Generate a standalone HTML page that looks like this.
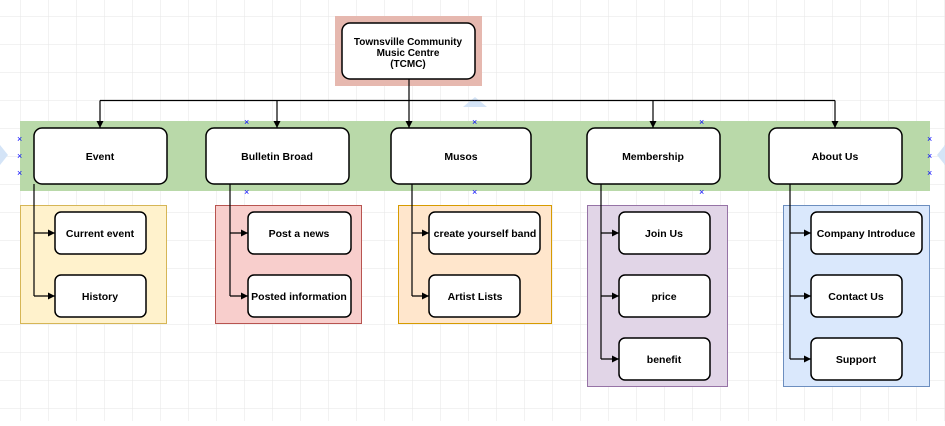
<!DOCTYPE html>
<html><head><meta charset="utf-8"><style>
html,body{margin:0;padding:0;background:#fff}
svg text{font-family:"Liberation Sans",Tahoma,sans-serif;font-weight:bold;font-size:10.5px;fill:#000}
</style></head><body>
<svg width="945" height="421" xmlns="http://www.w3.org/2000/svg">
<defs>
<pattern id="g" x="20" y="16" width="28" height="28" patternUnits="userSpaceOnUse">
<path d="M0 0H28M0 0V28" stroke="#e6e6e6" stroke-width="1" fill="none"/>
</pattern>
<marker id="a" markerWidth="8" markerHeight="8" refX="7" refY="4" orient="auto" markerUnits="userSpaceOnUse">
<path d="M0 0.5L7 4L0 7.5z" fill="#000"/>
</marker>
</defs>
<rect width="945" height="421" fill="url(#g)"/>
<!-- backgrounds -->
<rect x="335" y="16" width="147" height="70" fill="#e6b8af"/>
<rect x="20" y="121" width="910" height="70" fill="#b9d9a9"/>
<rect x="20.5" y="205.5" width="146" height="118" fill="#fff2cc" stroke="#d6b656"/>
<rect x="215.5" y="205.5" width="146" height="118" fill="#f8cecc" stroke="#b85450"/>
<rect x="398.5" y="205.5" width="153" height="118" fill="#ffe6cc" stroke="#d79b00"/>
<rect x="587.5" y="205.5" width="140" height="181" fill="#e1d5e7" stroke="#9673a6"/>
<rect x="783.5" y="205.5" width="146" height="181" fill="#dae8fc" stroke="#6c8ebf"/>
<!-- decorative -->
<path d="M463 107L475 97L487 107z" fill="#d4e4f7"/>
<path d="M0 145L8 155L0 165z" fill="#d4e4f7"/>
<path d="M945 145L937 155L945 165z" fill="#d4e4f7"/>
<g fill="#0000ff" font-size="9" style="font-weight:normal">
<text x="17" y="142" style="fill:#00f;font-weight:normal;font-size:9px">×</text>
<text x="17" y="159" style="fill:#00f;font-weight:normal;font-size:9px">×</text>
<text x="17" y="176" style="fill:#00f;font-weight:normal;font-size:9px">×</text>
<text x="244" y="125" style="fill:#00f;font-weight:normal;font-size:9px">×</text>
<text x="244" y="195" style="fill:#00f;font-weight:normal;font-size:9px">×</text>
<text x="472" y="125" style="fill:#00f;font-weight:normal;font-size:9px">×</text>
<text x="472" y="195" style="fill:#00f;font-weight:normal;font-size:9px">×</text>
<text x="699" y="125" style="fill:#00f;font-weight:normal;font-size:9px">×</text>
<text x="699" y="195" style="fill:#00f;font-weight:normal;font-size:9px">×</text>
<text x="927" y="142" style="fill:#00f;font-weight:normal;font-size:9px">×</text>
<text x="927" y="159" style="fill:#00f;font-weight:normal;font-size:9px">×</text>
<text x="927" y="176" style="fill:#00f;font-weight:normal;font-size:9px">×</text>
</g>
<!-- connectors -->
<g stroke="#000" stroke-width="1.2" fill="none">
<path d="M409 79V128" marker-end="url(#a)"/>
<path d="M100 100.5H835"/>
<path d="M100 100.5V128" marker-end="url(#a)"/>
<path d="M277 100.5V128" marker-end="url(#a)"/>
<path d="M653 100.5V128" marker-end="url(#a)"/>
<path d="M835 100.5V128" marker-end="url(#a)"/>
<path d="M34 184V296"/><path d="M34 233H55" marker-end="url(#a)"/><path d="M34 296H55" marker-end="url(#a)"/>
<path d="M230 184V296"/><path d="M230 233H248" marker-end="url(#a)"/><path d="M230 296H248" marker-end="url(#a)"/>
<path d="M412 184V296"/><path d="M412 233H429" marker-end="url(#a)"/><path d="M412 296H429" marker-end="url(#a)"/>
<path d="M601 184V359"/><path d="M601 233H619" marker-end="url(#a)"/><path d="M601 296H619" marker-end="url(#a)"/><path d="M601 359H619" marker-end="url(#a)"/>
<path d="M790 184V359"/><path d="M790 233H811" marker-end="url(#a)"/><path d="M790 296H811" marker-end="url(#a)"/><path d="M790 359H811" marker-end="url(#a)"/>
</g>
<!-- nodes -->
<g fill="#fff" stroke="#000" stroke-width="1.5">
<rect x="342" y="23" width="133" height="56" rx="8"/>
<rect x="34" y="128" width="133" height="56" rx="8"/>
<rect x="206" y="128" width="143" height="56" rx="8"/>
<rect x="391" y="128" width="140" height="56" rx="8"/>
<rect x="587" y="128" width="133" height="56" rx="8"/>
<rect x="769" y="128" width="133" height="56" rx="8"/>
<rect x="55" y="212" width="91" height="42" rx="6"/>
<rect x="55" y="275" width="91" height="42" rx="6"/>
<rect x="248" y="212" width="103" height="42" rx="6"/>
<rect x="248" y="275" width="103" height="42" rx="6"/>
<rect x="429" y="212" width="111" height="42" rx="6"/>
<rect x="429" y="275" width="91" height="42" rx="6"/>
<rect x="619" y="212" width="91" height="42" rx="6"/>
<rect x="619" y="275" width="91" height="42" rx="6"/>
<rect x="619" y="338" width="91" height="42" rx="6"/>
<rect x="811" y="212" width="111" height="42" rx="6"/>
<rect x="811" y="275" width="91" height="42" rx="6"/>
<rect x="811" y="338" width="91" height="42" rx="6"/>
</g>
<g text-anchor="middle">
<text x="408" y="45" style="font-size:10px">Townsville Community</text>
<text x="408" y="56" style="font-size:10px">Music Centre</text>
<text x="408" y="67" style="font-size:10px">(TCMC)</text>
<text x="100" y="160">Event</text>
<text x="277" y="160">Bulletin Broad</text>
<text x="461" y="160">Musos</text>
<text x="653" y="160">Membership</text>
<text x="835" y="160">About Us</text>
<text x="100" y="237">Current event</text>
<text x="100" y="300">History</text>
<text x="299" y="237">Post a news</text>
<text x="299" y="300">Posted information</text>
<text x="485" y="237">create yourself band</text>
<text x="475" y="300">Artist Lists</text>
<text x="664" y="237">Join Us</text>
<text x="664" y="300">price</text>
<text x="664" y="363">benefit</text>
<text x="866" y="237">Company Introduce</text>
<text x="856" y="300">Contact Us</text>
<text x="856" y="363">Support</text>
</g>
</svg>
</body></html>
